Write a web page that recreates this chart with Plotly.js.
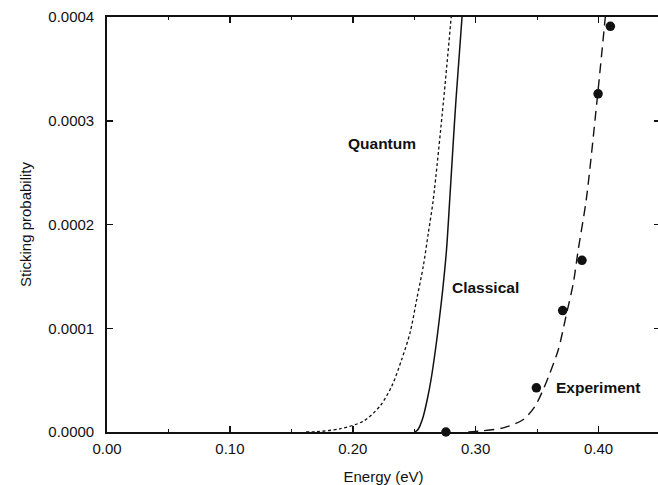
<!DOCTYPE html>
<html>
<head>
<meta charset="utf-8">
<script src="https://cdn.plot.ly/plotly-3.0.1.min.js"></script>
<style>
html, body { margin: 0; padding: 0; background: #fff; overflow: hidden; }
#chart { width: 660px; height: 485px; }
</style>
</head>
<body>
<div id="chart"></div>
<script>
// Quantum (short-dashed) curve
const quantumX = [0.162, 0.1706, 0.1896, 0.2086, 0.2221, 0.2317, 0.2398, 0.2466, 0.252, 0.2574, 0.2615, 0.2655, 0.2739, 0.2801];
const quantumY = [0, 0.0000002, 0.0000031, 0.0000104, 0.0000249, 0.0000441, 0.0000699, 0.0000956, 0.0001277, 0.00016, 0.000192, 0.000224, 0.00032, 0.0004];
// Classical (solid) curve
const classicalX = [0.2506, 0.2531, 0.2551, 0.2574, 0.2606, 0.2637, 0.2673, 0.2704, 0.2732, 0.2763, 0.2789, 0.2814, 0.284, 0.2889];
const classicalY = [0, 0.0000024, 0.0000072, 0.0000152, 0.0000313, 0.0000506, 0.0000795, 0.0001084, 0.0001373, 0.0001759, 0.0002241, 0.0002723, 0.0003205, 0.0004];
// Experiment fit (long-dashed) curve
const fitX = [0.294, 0.30, 0.3225, 0.3388, 0.3483, 0.355, 0.3605, 0.3673, 0.3735, 0.3795, 0.3835, 0.39, 0.3988, 0.4055];
const fitY = [0, 0.0000005, 0.000004, 0.000012, 0.0000249, 0.000041, 0.0000571, 0.0000795, 0.0001116, 0.0001438, 0.000176, 0.000224, 0.00032, 0.0004];
// Experimental points
const expX = [0.2758, 0.3494, 0.3708, 0.3865, 0.3996, 0.4096];
const expY = [0, 0.0000426, 0.000117, 0.0001655, 0.000326, 0.000391];
// Tick values and labels
const xTicks = [0, 0.1, 0.2, 0.3, 0.4];
const xTickLabels = ["0.00", "0.10", "0.20", "0.30", "0.40"];
const xMinorTicks = [0.05, 0.15, 0.25, 0.35];
const yTicks = [0, 0.0001, 0.0002, 0.0003, 0.0004];
const yTickLabels = ["0.0000", "0.0001", "0.0002", "0.0003", "0.0004"];
// Curve labels
const labelText = ["Quantum", "Classical", "Experiment"];
const labelX = [0.224, 0.3082, 0.3998];
const labelY = [0.000278, 0.0001397, 0.0000429];

const FONT = "Liberation Sans, Arial, Helvetica, sans-serif";
const INK = "#111";

const traces = [
  { x: quantumX, y: quantumY, mode: "lines", line: { color: INK, width: 1.3, dash: "3px,2.5px", shape: "spline", smoothing: 0.8 }, hoverinfo: "skip" },
  { x: classicalX, y: classicalY, mode: "lines", line: { color: INK, width: 1.5, shape: "spline", smoothing: 0.8 }, hoverinfo: "skip" },
  { x: fitX, y: fitY, mode: "lines", line: { color: INK, width: 1.4, dash: "10px,6px", shape: "spline", smoothing: 0.8 }, hoverinfo: "skip" },
  { x: expX, y: expY, mode: "markers", marker: { color: INK, size: 9.5 }, cliponaxis: false, hoverinfo: "skip" }
];

const annotations = labelText.map((t, i) => ({
  x: labelX[i], y: labelY[i], xref: "x", yref: "y", text: "<b>" + t + "</b>",
  showarrow: false, font: { family: FONT, size: 15.5, color: INK }
}));

const layout = {
  width: 660, height: 485,
  margin: { l: 107, r: 0, t: 17, b: 52.5, pad: 0 },
  paper_bgcolor: "#fff", plot_bgcolor: "#fff",
  showlegend: false,
  font: { family: FONT, size: 15, color: INK },
  xaxis: {
    range: [0, 0.45], tickvals: xTicks, ticktext: xTickLabels,
    ticks: "inside", ticklen: 6, tickwidth: 1.5, tickcolor: INK,
    minor: { tickvals: xMinorTicks, ticks: "inside", ticklen: 3, tickwidth: 1, tickcolor: INK },
    showline: true, linecolor: INK, linewidth: 1.8, mirror: "ticks",
    showgrid: false, zeroline: false,
    tickfont: { family: FONT, size: 15, color: INK },
    ticklabelstandoff: 2,
    title: { text: "Energy (eV)", font: { family: FONT, size: 15, color: INK }, standoff: 17 }
  },
  yaxis: {
    range: [0, 0.0004], tickvals: yTicks, ticktext: yTickLabels,
    ticks: "inside", ticklen: 6, tickwidth: 1.5, tickcolor: INK,
    showline: true, linecolor: INK, linewidth: 1.8, mirror: "ticks",
    showgrid: false, zeroline: false,
    tickfont: { family: FONT, size: 15, color: INK },
    ticklabelstandoff: 8,
    title: { text: "Sticking probability", font: { family: FONT, size: 15, color: INK }, standoff: 13 }
  },
  annotations: annotations
};

Plotly.newPlot("chart", traces, layout, { displayModeBar: false, staticPlot: true });
</script>
</body>
</html>
